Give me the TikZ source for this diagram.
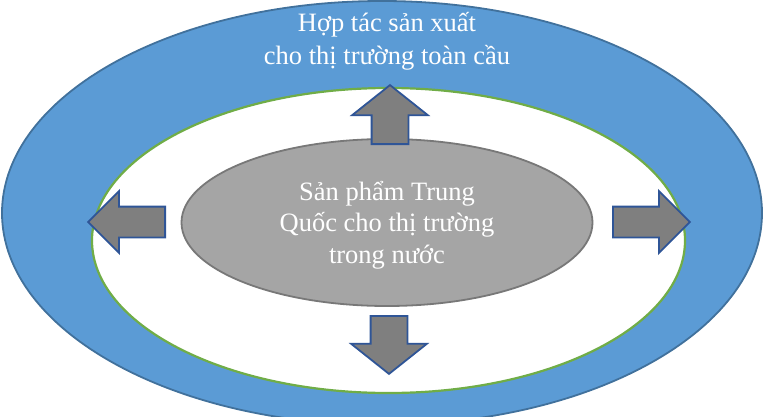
\documentclass[tikz,border=0pt]{standalone}
\usepackage{fontspec}
\setmainfont{Liberation Serif}
\usepackage{tikz}
\usetikzlibrary{shapes.geometric,shapes.arrows}

\begin{document}
\begin{tikzpicture}[
    x=1pt, y=-1pt,
    ring/.style={
        ellipse, inner sep=0pt, line width=1.8pt
    },
    outerRing/.style={ring, fill=blue500, draw=blue700,
        minimum width=760pt, minimum height=424pt},
    innerRing/.style={ring, fill=white, draw=green500, line width=2.2pt,
        minimum width=593pt, minimum height=305pt},
    coreRing/.style={ring, fill=gray400, draw=gray600,
        minimum width=411pt, minimum height=167pt},
    blockArrow/.style={
        single arrow, anchor=tail, draw=arrowBlue, fill=gray500,
        line width=1.8pt, inner xsep=0pt, single arrow head indent=0pt
    },
    vArrow/.style={blockArrow, inner ysep=17.5pt,
        single arrow head extend=19.5pt, single arrow tip angle=103},
    hArrow/.style={blockArrow, inner ysep=14.5pt, minimum height=77pt,
        single arrow head extend=15.5pt, single arrow tip angle=90},
    label/.style={font=\fontsize{26.5pt}{33.5pt}\selectfont, text=white,
        align=center, anchor=base, inner sep=0pt}
]

    \definecolor{blue500}{HTML}{5B9BD5}
    \definecolor{blue700}{HTML}{41719C}
    \definecolor{green500}{HTML}{70AD47}
    \definecolor{gray400}{HTML}{A5A5A5}
    \definecolor{gray500}{HTML}{7F7F7F}
    \definecolor{gray600}{HTML}{787878}
    \definecolor{arrowBlue}{HTML}{2F5597}

    \useasboundingbox (0,0) rectangle (765,417);

    \node[outerRing] (outer) at (382,213) {};
    \node[innerRing] (inner) at (388.5,240.5) {};
    \node[coreRing] (core) at (387,222.5) {};

    % base anchor sits on the last line
    \node[label] (globalText) at (387,65) {Hợp tác sản xuất\\cho thị trường toàn cầu};
    \node[label, font=\fontsize{26.5pt}{31.5pt}\selectfont] (coreText) at (387,263)
        {Sản phẩm Trung\\Quốc cho thị trường\\trong nước};

    % arrows out of the core
    \node[vArrow, minimum height=59pt, rotate=90] (upArrow) at (390,145) {};
    \node[vArrow, minimum height=58pt, rotate=-90] (downArrow) at (389,315) {};
    \node[hArrow, rotate=180] (leftArrow) at (166,222) {};
    \node[hArrow] (rightArrow) at (612,222) {};

\end{tikzpicture}
\end{document}
